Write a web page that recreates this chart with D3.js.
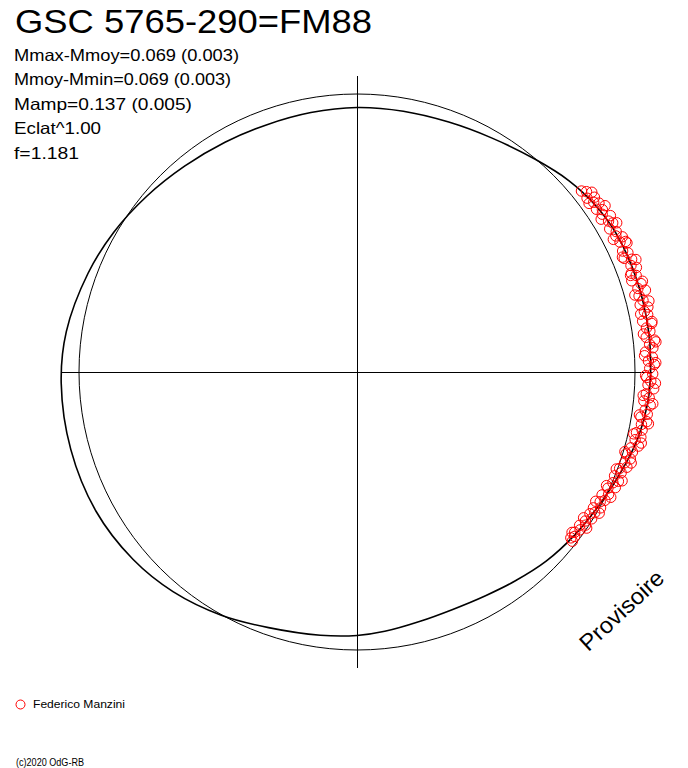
<!DOCTYPE html>
<html>
<head>
<meta charset="utf-8">
<script src="https://cdn.jsdelivr.net/npm/d3@7"></script>
<style>
  html, body { margin: 0; padding: 0; background: #fff; }
  svg { display: block; }
  text { font-family: "Liberation Sans", Arial, sans-serif; fill: #000; }
</style>
</head>
<body>
<svg id="chart" width="688" height="768"></svg>
<script>
// ---- data ----
const title = "GSC 5765-290=FM88";
const infoLines = ["Mmax-Mmoy=0.069 (0.003)", "Mmoy-Mmin=0.069 (0.003)", "Mamp=0.137 (0.005)", "Eclat^1.00", "f=1.181"];
const infoWidths = [225, 217, 178, 87, 65];
const observer = "Federico Manzini";
const copyright = "(c)2020 OdG-RB";
const stamp = "Provisoire";

// mean light curve: phase (0..1) and magnitude offset from Mmoy
const curvePhase = [0.000, 0.028, 0.056, 0.083, 0.111, 0.133, 0.153, 0.172, 0.200, 0.228, 0.250, 0.267, 0.286, 0.306, 0.328, 0.353, 0.375, 0.397, 0.417, 0.439, 0.461, 0.483, 0.500, 0.522, 0.553, 0.581, 0.611, 0.639, 0.672, 0.708, 0.744, 0.772, 0.806, 0.833, 0.861, 0.889, 0.917, 0.944, 0.972];
const curveMag   = [0.0458, 0.0447, 0.0400, 0.0271, 0.0017, -0.0254, -0.0441, -0.0536, -0.0563, -0.0556, -0.0529, -0.0485, -0.0366, -0.0163, 0.0041, 0.0210, 0.0356, 0.0542, 0.0678, 0.0746, 0.0705, 0.0583, 0.0492, 0.0414, 0.0254, -0.0017, -0.0288, -0.0475, -0.0603, -0.0627, -0.0610, -0.0525, -0.0288, -0.0085, 0.0136, 0.0322, 0.0441, 0.0502, 0.0492];

// observations (Federico Manzini)
const obsPhase = [0.142, 0.144, 0.147, 0.149, 0.151, 0.153, 0.155, 0.157, 0.159, 0.162, 0.164, 0.166, 0.168, 0.171, 0.173, 0.175, 0.177, 0.179, 0.182, 0.184, 0.186, 0.188, 0.191, 0.193, 0.195, 0.197, 0.199, 0.202, 0.204, 0.206, 0.208, 0.211, 0.213, 0.215, 0.217, 0.219, 0.222, 0.224, 0.226, 0.228, 0.231, 0.233, 0.235, 0.237, 0.239, 0.242, 0.244, 0.246, 0.248, 0.251, 0.253, 0.255, 0.257, 0.259, 0.262, 0.264, 0.266, 0.268, 0.271, 0.273, 0.275, 0.277, 0.279, 0.282, 0.284, 0.286, 0.288, 0.291, 0.293, 0.295, 0.297, 0.299, 0.302, 0.304, 0.306, 0.308, 0.311, 0.313, 0.315, 0.317, 0.319, 0.322, 0.324, 0.326, 0.328, 0.331, 0.333, 0.335, 0.337, 0.339, 0.342, 0.344, 0.346, 0.348, 0.351, 0.353, 0.355,
  0.146, 0.150, 0.156, 0.161, 0.167, 0.174, 0.178, 0.185, 0.189, 0.196, 0.201, 0.207, 0.212, 0.218, 0.223, 0.229, 0.234, 0.241, 0.245, 0.252, 0.256, 0.263, 0.267, 0.274, 0.278, 0.285, 0.289, 0.296, 0.301, 0.307, 0.312, 0.318, 0.323, 0.329, 0.334, 0.341, 0.345, 0.352, 0.356];
const obsMag   = [-0.035, -0.047, -0.035, -0.057, -0.045, -0.058, -0.039, -0.055, -0.046, -0.067, -0.052, -0.061, -0.042, -0.057, -0.049, -0.067, -0.052, -0.072, -0.047, -0.061, -0.042, -0.064, -0.054, -0.069, -0.046, -0.059, -0.039, -0.066, -0.051, -0.074, -0.048, -0.057, -0.044, -0.068, -0.053, -0.062, -0.041, -0.070, -0.050, -0.060, -0.045, -0.072, -0.054, -0.064, -0.038, -0.060, -0.046, -0.066, -0.050, -0.060, -0.040, -0.054, -0.045, -0.065, -0.041, -0.052, -0.035, -0.058, -0.043, -0.052, -0.032, -0.054, -0.038, -0.044, -0.027, -0.045, -0.028, -0.044, -0.021, -0.030, -0.011, -0.030, -0.016, -0.028, -0.006, -0.016, 0.001, -0.018, -0.003, -0.017, 0.005, -0.006, 0.013, -0.004, 0.008, -0.003, 0.018, 0.006, 0.018, 0.004, 0.018, 0.010, 0.026, 0.016, 0.026, 0.018, 0.025,
  -0.060, -0.030, -0.070, -0.034, -0.073, -0.036, -0.070, -0.038, -0.077, -0.041, -0.073, -0.035, -0.076, -0.039, -0.072, -0.037, -0.076, -0.034, -0.071, -0.036, -0.070, -0.031, -0.066, -0.026, -0.061, -0.019, -0.051, -0.005, -0.037, 0.004, -0.029, 0.013, -0.017, 0.022, -0.008, 0.029, 0.001, 0.033, 0.014];

// ---- drawing ----
const svg = d3.select("#chart");
const cx = 357, cy = 372;
const angle = d3.scaleLinear().domain([0, 1]).range([0, 2 * Math.PI]);
const radius = d3.scaleLinear().domain([0, 0.069]).range([278, 278 - 0.069 * 295]);

const g = svg.append("g").attr("transform", `translate(${cx},${cy})`);

const extent = radius(d3.min(curveMag));
// axes cross
g.append("line").attr("x1", -extent).attr("x2", extent).attr("y1", 0).attr("y2", 0)
  .attr("stroke", "#000").attr("stroke-width", 1).attr("shape-rendering", "crispEdges");
g.append("line").attr("x1", 0).attr("x2", 0).attr("y1", -extent).attr("y2", extent)
  .attr("stroke", "#000").attr("stroke-width", 1).attr("shape-rendering", "crispEdges");

// mean-magnitude circle
g.append("circle").attr("r", radius(0)).attr("fill", "none").attr("stroke", "#000").attr("stroke-width", 1);

// light curve
const curveData = curvePhase.map((p, i) => ({ p, m: curveMag[i] }));
const line = d3.lineRadial().angle(d => angle(d.p)).radius(d => radius(d.m)).curve(d3.curveCatmullRomClosed.alpha(0.5));
g.append("path").datum(curveData).attr("d", line).attr("fill", "none").attr("stroke", "#000").attr("stroke-width", 1.6);

// observations
const obs = obsPhase.map((p, i) => ({ p, m: obsMag[i] }));
g.selectAll("circle.obs").data(obs).join("circle").attr("class", "obs")
  .attr("cx", d => d3.pointRadial(angle(d.p), radius(d.m))[0])
  .attr("cy", d => d3.pointRadial(angle(d.p), radius(d.m))[1])
  .attr("r", 5.2).attr("fill", "none").attr("stroke", "#ff0000").attr("stroke-width", 1);

// title and info
svg.append("text").attr("x", 15).attr("y", 33).attr("font-size", 33).attr("textLength", 357).attr("lengthAdjust", "spacingAndGlyphs").text(title);
svg.selectAll("text.info").data(infoLines).join("text").attr("class", "info")
  .attr("x", 14).attr("y", (d, i) => 61 + i * 24.4).attr("font-size", 16.5)
  .attr("textLength", (d, i) => infoWidths[i]).attr("lengthAdjust", "spacingAndGlyphs").text(d => d);

// stamp
svg.append("text").attr("transform", "translate(627,616) rotate(-43)").attr("text-anchor", "middle")
  .attr("font-size", 23).attr("textLength", 106).attr("lengthAdjust", "spacingAndGlyphs").text(stamp);

// legend
svg.append("circle").attr("cx", 20.5).attr("cy", 704.5).attr("r", 4.5).attr("fill", "none").attr("stroke", "#ff0000").attr("stroke-width", 1);
svg.append("text").attr("x", 33).attr("y", 708).attr("font-size", 11).attr("textLength", 92).attr("lengthAdjust", "spacingAndGlyphs").text(observer);
svg.append("text").attr("x", 16).attr("y", 766).attr("font-size", 10).attr("textLength", 68).attr("lengthAdjust", "spacingAndGlyphs").text(copyright);
</script>
</body>
</html>
